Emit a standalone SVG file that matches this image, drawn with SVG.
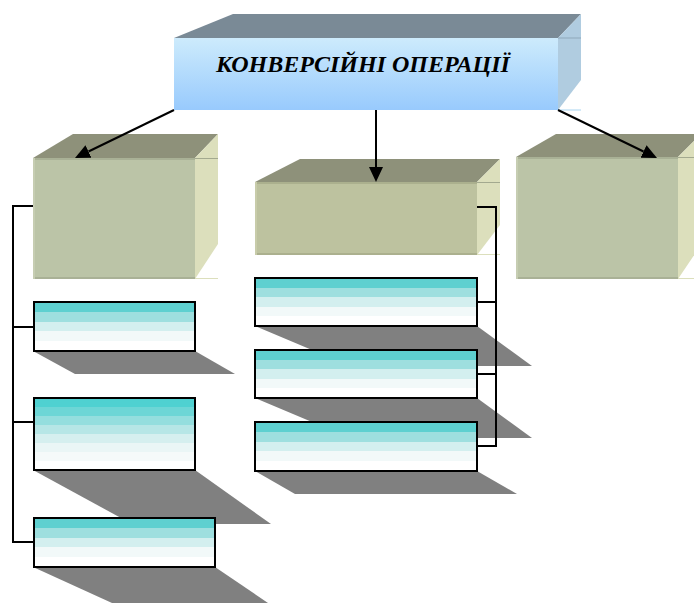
<svg xmlns="http://www.w3.org/2000/svg" width="694" height="603" viewBox="0 0 694 603">
<defs>
<style>
.top3d{fill:#8E917A}
.side3d{fill:#DCDFBC}
.edge{stroke:#A3A98F;stroke-width:1}
.cb{stroke:#000;stroke-width:2}
.sh{fill:#808080}
.ln{fill:none;stroke:#000;stroke-width:2}
.title{font-family:"Liberation Serif","Times New Roman",serif;font-weight:bold;font-style:italic;font-size:24px;fill:#000}
</style>
<linearGradient id="blue" x1="0" y1="0" x2="0" y2="1">
<stop offset="0" stop-color="#CDEBFC"/>
<stop offset="1" stop-color="#98CAFD"/>
</linearGradient>
<linearGradient id="g5" x1="0" y1="0" x2="0" y2="1">
<stop offset="0" stop-color="#5ED0D0"/><stop offset="0.2" stop-color="#5ED0D0"/>
<stop offset="0.2" stop-color="#9EDFDF"/><stop offset="0.4" stop-color="#9EDFDF"/>
<stop offset="0.4" stop-color="#D3EFEF"/><stop offset="0.6" stop-color="#D3EFEF"/>
<stop offset="0.6" stop-color="#F2F9F9"/><stop offset="0.8" stop-color="#F2F9F9"/>
<stop offset="0.8" stop-color="#FFFFFF"/><stop offset="1" stop-color="#FFFFFF"/>
</linearGradient>
<linearGradient id="g8" x1="0" y1="0" x2="0" y2="1">
<stop offset="0" stop-color="#4FD1D1"/><stop offset="0.125" stop-color="#4FD1D1"/>
<stop offset="0.125" stop-color="#6DD6D6"/><stop offset="0.25" stop-color="#6DD6D6"/>
<stop offset="0.25" stop-color="#94DEDE"/><stop offset="0.375" stop-color="#94DEDE"/>
<stop offset="0.375" stop-color="#B6E6E6"/><stop offset="0.5" stop-color="#B6E6E6"/>
<stop offset="0.5" stop-color="#D5EFEF"/><stop offset="0.625" stop-color="#D5EFEF"/>
<stop offset="0.625" stop-color="#EAF6F6"/><stop offset="0.75" stop-color="#EAF6F6"/>
<stop offset="0.75" stop-color="#F5FAFA"/><stop offset="0.875" stop-color="#F5FAFA"/>
<stop offset="0.875" stop-color="#FFFFFF"/><stop offset="1" stop-color="#FFFFFF"/>
</linearGradient>
<marker id="ah" markerUnits="userSpaceOnUse" markerWidth="16" markerHeight="16" viewBox="0 -8 16 16" refX="0" refY="0" orient="auto">
<path d="M0,-7 L15,0 L0,7 Z" fill="#000"/>
</marker>
</defs>
<rect width="694" height="603" fill="#FFFFFF"/>

<g id="root">
<polygon points="174,38 233,14 581,14 558,38" fill="#7A8A96"/>
<polygon points="558,38 581,14 581,80 558,110" fill="#B0CCE0"/>
<line x1="558" y1="38" x2="581" y2="38" stroke="#8FA8BA" stroke-width="1"/>
<line x1="558" y1="110" x2="581" y2="110" stroke="#A8D4F0" stroke-width="1"/>
<rect x="174" y="38" width="384" height="72" fill="url(#blue)"/>
<text class="title" x="363" y="72" text-anchor="middle">КОНВЕРСІЙНІ ОПЕРАЦІЇ</text>
</g>

<g id="box-left">
<polygon class="top3d" points="33,158 73,134 218,134 195,158"/>
<polygon class="side3d" points="195,158 218,134 218,244 195,279"/>
<line x1="195" y1="158.5" x2="218" y2="158.5" stroke="#A3A98F"/>
<line x1="195" y1="278.5" x2="218" y2="278.5" stroke="#DCDFBC"/>
<rect x="33" y="158" width="162" height="121" fill="#BBC4A7"/>
<rect x="33" y="158" width="162" height="2" fill="#A9B196"/>
<rect x="33" y="277" width="162" height="2" fill="#A9B196"/>
<rect x="33" y="158" width="2" height="121" fill="#C6CDB2"/>
</g>

<g id="box-mid">
<polygon class="top3d" points="255,182 300,159 500,159 477,182"/>
<polygon class="side3d" points="477,182 500,159 500,225 477,255"/>
<line x1="477" y1="182.5" x2="500" y2="182.5" stroke="#A3A98F"/>
<line x1="477" y1="254.5" x2="500" y2="254.5" stroke="#DCDFBC"/>
<rect x="255" y="182" width="222" height="73" fill="#BDC29F"/>
<rect x="255" y="182" width="222" height="2" fill="#ABB08E"/>
<rect x="255" y="253" width="222" height="2" fill="#ABB08E"/>
<rect x="255" y="182" width="2" height="73" fill="#C8CCAA"/>
</g>

<g id="box-right">
<polygon class="top3d" points="516,157 556,134 701,134 678,157"/>
<polygon class="side3d" points="678,157 701,134 701,245 678,279"/>
<line x1="678" y1="157.5" x2="701" y2="157.5" stroke="#A3A98F"/>
<line x1="678" y1="278.5" x2="701" y2="278.5" stroke="#DCDFBC"/>
<rect x="516" y="157" width="162" height="122" fill="#BBC4A7"/>
<rect x="516" y="157" width="162" height="2" fill="#A9B196"/>
<rect x="516" y="277" width="162" height="2" fill="#A9B196"/>
<rect x="516" y="157" width="2" height="122" fill="#C6CDB2"/>
</g>

<g id="l1">
<polygon class="sh" points="33,351 195,351 235,374 75,374"/>
<rect class="cb" x="34" y="302" width="161" height="49" fill="url(#g5)"/>
</g>
<g id="l2">
<polygon class="sh" points="33,470 195,470 271,524 132,524"/>
<rect class="cb" x="34" y="398" width="161" height="72" fill="url(#g8)"/>
</g>
<g id="l3">
<polygon class="sh" points="33,567 215,567 268,603 112,603"/>
<rect class="cb" x="34" y="518" width="181" height="49" fill="url(#g5)"/>
</g>
<g id="m1">
<polygon class="sh" points="255,326 477,326 532,366 350,366"/>
<rect class="cb" x="255" y="278" width="222" height="48" fill="url(#g5)"/>
</g>
<g id="m2">
<polygon class="sh" points="255,398 477,398 532,438 350,438"/>
<rect class="cb" x="255" y="350" width="222" height="48" fill="url(#g5)"/>
</g>
<g id="m3">
<polygon class="sh" points="255,471 477,471 517,494 295,494"/>
<rect class="cb" x="255" y="422" width="222" height="49" fill="url(#g5)"/>
</g>

<g id="connectors">
<line class="ln" x1="174" y1="110" x2="88.5" y2="151.5" marker-end="url(#ah)"/>
<line class="ln" x1="376" y1="110" x2="376" y2="167" marker-end="url(#ah)"/>
<line class="ln" x1="558" y1="110" x2="643.5" y2="151.5" marker-end="url(#ah)"/>
<path class="ln" d="M33,206 H13 V542 H33 M13,327 H33 M13,422 H33"/>
<path class="ln" d="M477,207 H496 V446 H477 M477,302 H496 M477,374 H496"/>
</g>
</svg>
